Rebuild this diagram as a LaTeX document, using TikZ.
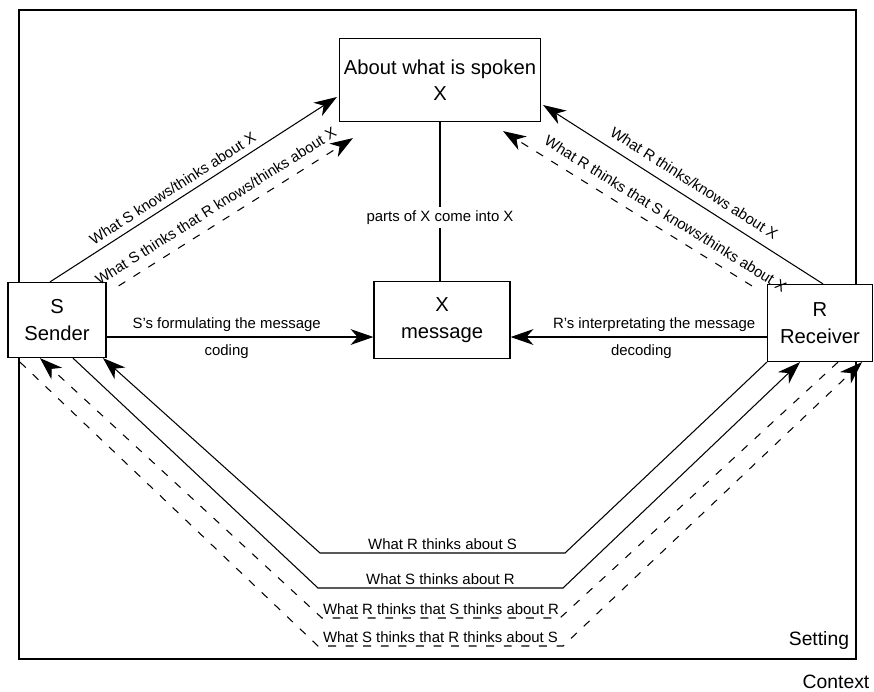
\documentclass[tikz,border=0pt]{standalone}
\usepackage{fontspec}
\setmainfont{Liberation Sans}
\usetikzlibrary{arrows.meta,calc}

\begin{document}
\begin{tikzpicture}[
		x=0.02cm, y=-0.02cm,
		>={Stealth[length=13pt,width=9pt,inset=4pt]},
		font=\fontsize{8.5}{10}\selectfont,
		inner sep=1.5pt,
		box/.style={draw, fill=white, line width=0.7pt, align=center, inner sep=1pt, font=\fontsize{11.5}{15}\selectfont},
		conn/.style={->, line width=0.6pt},
		dconn/.style={conn, dash pattern=on 4.5pt off 5.5pt},
		lbl/.style={font=\fontsize{11}{13}\selectfont},
		slab/.style={above, sloped, inner sep=#1},
		slab/.default=5.5pt
		]
		\useasboundingbox (0,0) rectangle (874,691);
		
		% Setting / Context frame
		\draw[line width=0.7pt] (19,10) rectangle (856,659);
		\node[lbl, anchor=east] (setting) at (852,640) {Setting};
		\node[lbl] (context) at (836,682) {Context};
		
		% Boxes
		\node[box, minimum width=4.02cm, minimum height=1.66cm] (about) at (440,80) {About what is spoken\\X};
		\node[box, minimum width=2.72cm, minimum height=1.54cm] (msg) at (442,320) {X\\message};
		\node[box, minimum width=1.96cm, minimum height=1.5cm] (sender) at (57,320) {S\\Sender};
		\node[box, minimum width=2.1cm, minimum height=1.54cm] (receiver) at (820,323) {R\\Receiver};
		
		% X comes into the message
		\draw[line width=0.6pt] (about.south) -- node[pos=0.6, fill=white, inner sep=2pt] {parts of X come into X} (about.south |- msg.north);
		
		% Coding and decoding
		\draw[conn] ($(sender.east)+(0,17)$) -- node[above, pos=0.45, inner sep=3pt] {S's formulating the message} node[below, pos=0.45, inner sep=4pt] {coding} ($(msg.west)+(0,17)$);
		\draw[conn] ($(receiver.west)+(0,14)$) -- node[above, pos=0.44, inner sep=3pt] {R's interpretating the message} node[below, pos=0.49, inner sep=4pt] {decoding} ($(msg.east)+(0,17)$);
		
		% About X
		\draw[conn] ($(sender.north)+(-7,0)$) -- node[slab=3.5pt, pos=0.45] {What S knows/thinks about X} ($(about.west)+(-2,17)$);
		\draw[dconn] ($(sender.north east)+(12,4)$) -- node[slab, pos=0.45] {What S thinks that R knows/thinks about X} ($(about.south west)+(14,16)$);
		\draw[conn] ($(receiver.north)+(3,0)$) -- node[slab, pos=0.49] {What R thinks/knows about X} ($(about.east)+(2,25)$);
		\draw[dconn] ($(receiver.north west)+(-15,2)$) -- node[slab, pos=0.38] {What R thinks that S knows/thinks about X} ($(about.south east)+(-38,9)$);
		
		% About each other
		\draw[conn] (receiver.south west) -- (565,553) -- node[above] {What R thinks about S} (320,553) -- ($(sender.south)+(46,0)$);
		\draw[conn] ($(sender.south)+(16,0)$) -- (318,588) -- node[above] {What S thinks about R} (563,588) -- ($(receiver.south)+(-20,0)$);
		\draw[dconn] ($(receiver.south)+(18,0)$) -- (560,618) -- node[above] {What R thinks that S thinks about R} (322,618) -- ($(sender.south)+(-17,0)$);
		\draw[dconn] ($(sender.south)+(-37,4)$) -- (318,646) -- node[above] {What S thinks that R thinks about S} (563,646) -- ($(receiver.south)+(42,0)$);
		
	\end{tikzpicture}
\end{document}
